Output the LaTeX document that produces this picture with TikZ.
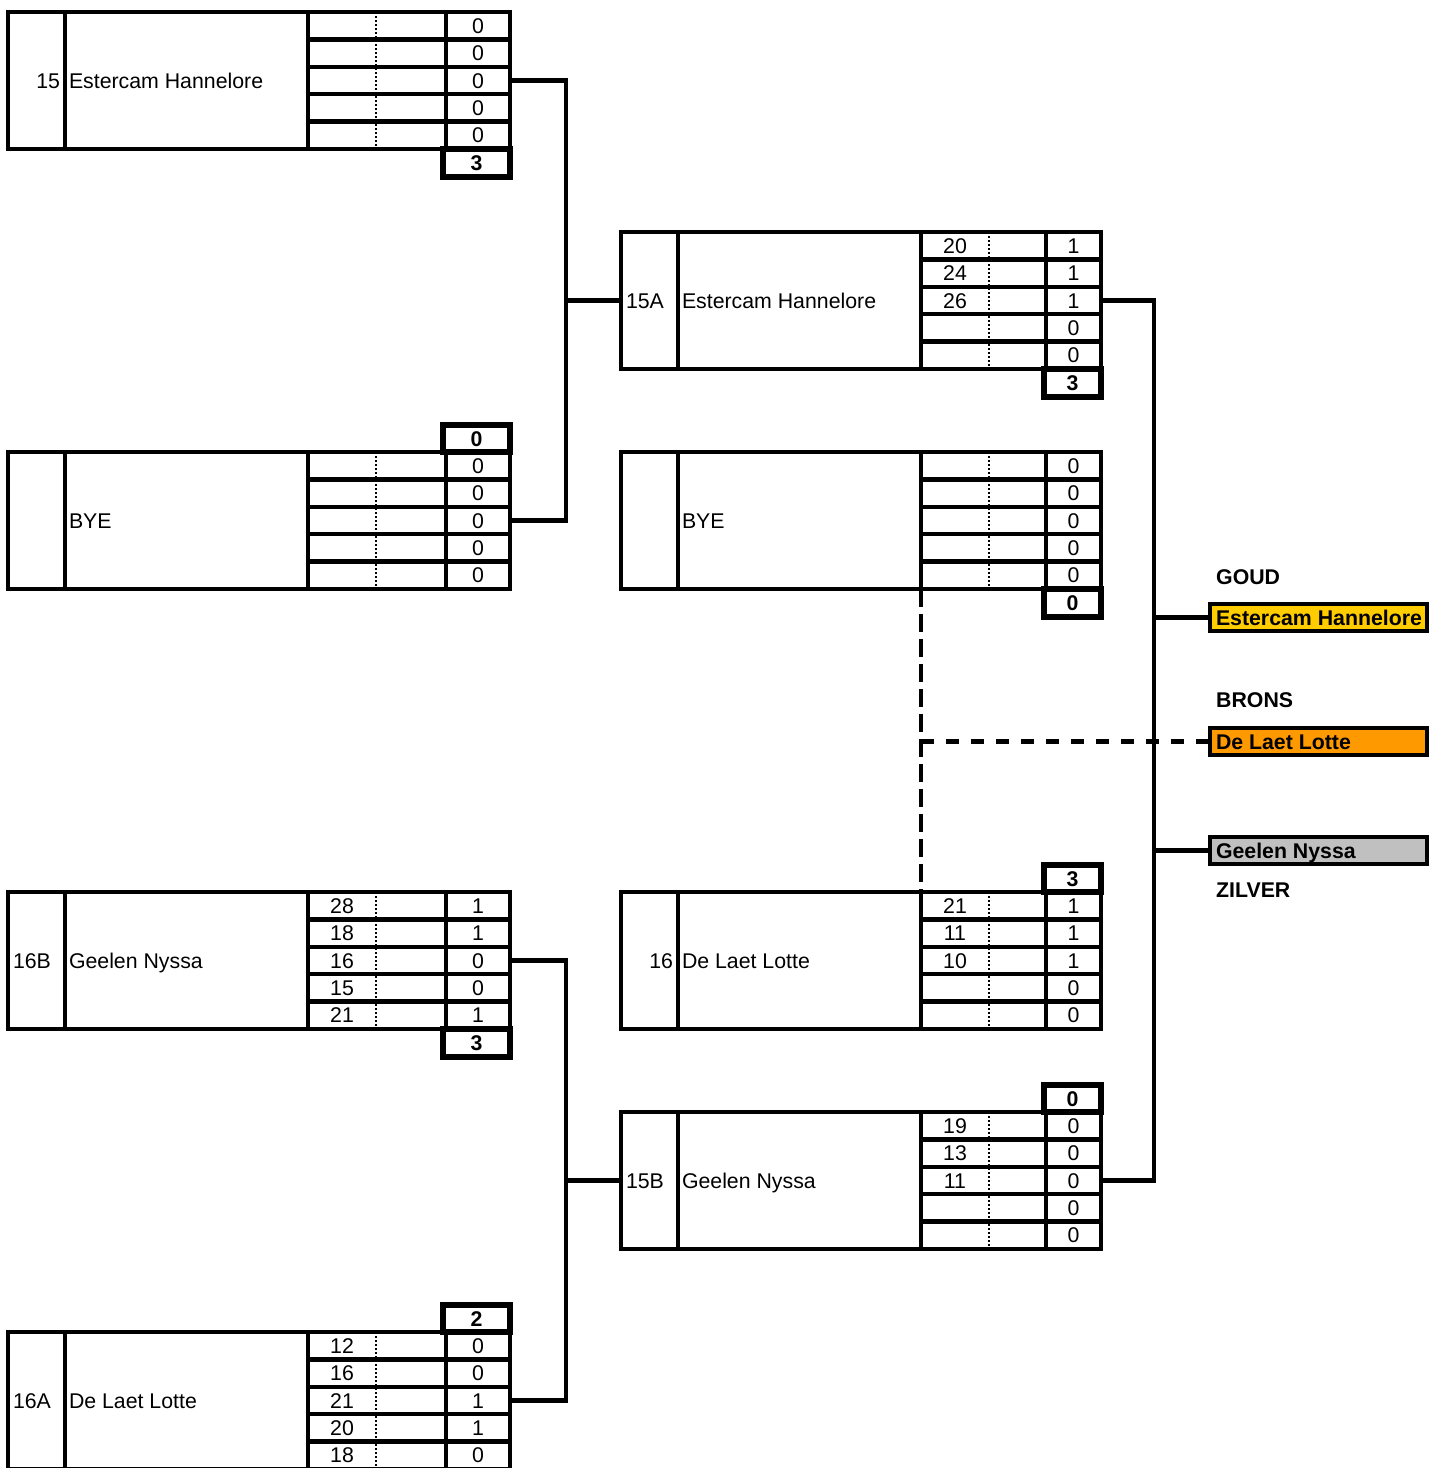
\documentclass[tikz,border=0pt]{standalone}
\usepackage{fontspec}
\setmainfont{Liberation Sans}
\usetikzlibrary{calc}
\definecolor{medalgold}{HTML}{FFCC00}
\definecolor{medalbronze}{HTML}{FF9900}
\definecolor{medalsilver}{HTML}{C0C0C0}
\newcommand\myfs{\fontsize{21.3}{25}\selectfont}
\newcommand\myfsb{\fontsize{21.3}{25}\selectfont\bfseries}
\tikzset{
  frame/.style={line width=4.3pt},
  rowline/.style={line width=4.3pt},
  dotline/.style={line width=1.5pt, dash pattern=on 2pt off 2pt},
  conn/.style={line width=4.3pt},
  vdash/.style={line width=4.3pt, dash pattern=on 18pt off 7pt},
  hdash/.style={line width=4.3pt, dash pattern=on 13pt off 12pt},
  cell/.style={inner ysep=0pt, inner xsep=0pt, text height=15.3pt, text depth=0pt, font=\myfs},
  totbox/.style={draw, line width=5.5pt, inner sep=0pt, text height=15.3pt, text depth=0pt, font=\myfsb},
  medal/.style={draw, line width=4.3pt, minimum width=217pt, minimum height=27pt, inner xsep=6pt, inner ysep=0pt, text height=15.3pt, text depth=0pt, font=\myfsb},
  medallabel/.style={anchor=west, inner sep=0pt, text height=15.3pt, text depth=0pt, font=\myfsb},
}
% #1 name, #2 x0, #3 y0, #4 score-left x, #5 right x, #6 label, #7 team, #8 rows
\newcommand\teamblock[8]{%
  \draw[frame] ({#2},{#3}) rectangle ({#5},{#3+137});
  \draw[frame] ({#2+57},{#3}) -- ({#2+57},{#3+137});
  \draw[frame] ({#2+300},{#3}) -- ({#2+300},{#3+137});
  \draw[frame] ({#4},{#3}) -- ({#4},{#3+137});
  \draw[dotline] ({#2+368},{#3}) -- ({#2+368},{#3+137});
  \foreach \k in {1,...,4} {\draw[rowline] ({#2+300},{#3+27.4*\k}) -- ({#5},{#3+27.4*\k});}
  \node[cell, minimum width=57pt, minimum height=137pt, inner xsep=5pt] (#1-lab) at ({#2+28.5},{#3+68.5}) {#6};
  \node[cell, minimum width=243pt, minimum height=137pt, inner xsep=4pt] (#1-name) at ({#2+178.5},{#3+68.5}) {\makebox[235pt][l]{#7}};
  \foreach[count=\i] \p/\s in {#8} {
    \node[cell, minimum width=68pt, minimum height=27.4pt] (#1-p\i) at ({#2+334},{#3+13.7+27.4*(\i-1)}) {\p};
    \node[cell, minimum width={(#5-#4)*1pt}, minimum height=27.4pt] (#1-s\i) at ({(#4+#5)/2},{#3+13.7+27.4*(\i-1)}) {\s};
  }
}
% #1 name, #2 xl, #3 xr, #4 ytop, #5 ybottom, #6 text
\newcommand\totalbox[6]{%
  \node[totbox, minimum width={(#3-#2)*1pt}, minimum height={(#5-#4)*1pt}] (#1) at ({(#2+#3)/2},{(#4+#5)/2}) {#6};
}
\begin{document}
\begin{tikzpicture}[x=1pt,y=-1pt]
\useasboundingbox (0,0) rectangle (1429,1468);
\clip (0,0) rectangle (1429,1468);

% column 1
\teamblock{b15}{8}{12}{446}{510}{\makebox[47pt][r]{15}}{Estercam Hannelore}{/0,/0,/0,/0,/0}
\totalbox{t15}{443}{510}{149}{177}{3}
\teamblock{bye1}{8}{452}{446}{510}{\makebox[47pt][l]{}}{BYE}{/0,/0,/0,/0,/0}
\totalbox{tbye1}{443}{510}{425}{452}{0}
\teamblock{b16B}{8}{892}{446}{510}{\makebox[47pt][l]{16B}}{Geelen Nyssa}{28/1,18/1,16/0,15/0,21/1}
\totalbox{t16B}{443}{510}{1029}{1057}{3}
\teamblock{b16A}{8}{1332}{446}{510}{\makebox[47pt][l]{16A}}{De Laet Lotte}{12/0,16/0,21/1,20/1,18/0}
\totalbox{t16A}{443}{510}{1305}{1332}{2}

% column 2
\teamblock{b15A}{621}{232}{1046}{1101}{\makebox[47pt][l]{15A}}{Estercam Hannelore}{20/1,24/1,26/1,/0,/0}
\totalbox{t15A}{1044}{1101}{369}{397}{3}
\teamblock{bye2}{621}{452}{1046}{1101}{\makebox[47pt][l]{}}{BYE}{/0,/0,/0,/0,/0}
\totalbox{tbye2}{1044}{1101}{589}{617}{0}
\teamblock{b16}{621}{892}{1046}{1101}{\makebox[47pt][r]{16}}{De Laet Lotte}{21/1,11/1,10/1,/0,/0}
\totalbox{t16}{1044}{1101}{865}{892}{3}
\teamblock{b15B}{621}{1112}{1046}{1101}{\makebox[47pt][l]{15B}}{Geelen Nyssa}{19/0,13/0,11/0,/0,/0}
\totalbox{t15B}{1044}{1101}{1085}{1112}{0}

% medals
\node[medallabel] (lgoud) at (1216,577) {GOUD};
\node[medal, fill=medalgold] (gold) at (1318.5,617.5) {\makebox[205pt][l]{Estercam Hannelore}};
\node[medallabel] (lbrons) at (1216,700) {BRONS};
\node[medal, fill=medalbronze] (bronze) at (1318.5,741.5) {\makebox[205pt][l]{De Laet Lotte}};
\node[medal, fill=medalsilver] (silver) at (1318.5,850.5) {\makebox[205pt][l]{Geelen Nyssa}};
\node[medallabel] (lzilver) at (1216,890) {ZILVER};

% connectors column 1
\draw[conn] (b15-s3.east) -- ++(56,0) coordinate (j1) |- (bye1-s3.east);
\draw[conn] (b15A-lab.west) -- (b15A-lab.west -| j1);
\draw[conn] (b16B-s3.east) -- ++(56,0) coordinate (j2) |- (b16A-s3.east);
\draw[conn] (b15B-lab.west) -- (b15B-lab.west -| j2);

% connectors column 2
\draw[conn] (b15A-s3.east) -- ++(53,0) coordinate (j3) |- (b15B-s3.east);
\draw[conn] (gold.west) -- (gold.west -| j3);
\draw[conn] (silver.west) -- (silver.west -| j3);

% bronze dashed
\draw[vdash] (bye2-name.south east) -- (b16-name.north east);
\coordinate (d1) at (bye2-name.south east |- bronze.west);
\draw[hdash] (d1) -- (bronze.west);
\end{tikzpicture}
\end{document}
